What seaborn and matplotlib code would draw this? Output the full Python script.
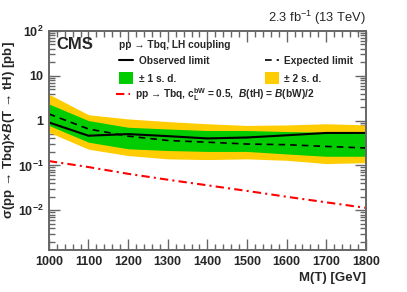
import matplotlib
matplotlib.use("Agg")
import matplotlib.pyplot as plt
import seaborn as sns
from matplotlib.lines import Line2D
from matplotlib.patches import Patch
from matplotlib.ticker import MultipleLocator, LogLocator, NullFormatter

# Values
mass = [1000, 1100, 1200, 1300, 1400, 1500, 1600, 1700, 1800]
observed = [0.91, 0.46, 0.50, 0.45, 0.40, 0.42, 0.47, 0.53, 0.53]
expected = [1.41, 0.65, 0.45, 0.36, 0.33, 0.30, 0.29, 0.265, 0.245]
one_sd_lo = [0.78, 0.33, 0.235, 0.215, 0.205, 0.205, 0.18, 0.16, 0.16]
one_sd_hi = [2.35, 1.0, 0.71, 0.65, 0.60, 0.60, 0.57, 0.55, 0.55]
two_sd_lo = [0.55, 0.23, 0.166, 0.14, 0.135, 0.14, 0.13, 0.11, 0.115]
two_sd_hi = [3.9, 1.35, 1.09, 0.95, 0.85, 0.78, 0.80, 0.85, 0.80]
theory = [0.125, 0.092, 0.065, 0.048, 0.036, 0.027, 0.020, 0.015, 0.0113]

y_ticks = [1e-2, 1e-1, 1, 10, 100]
y_ticklabels = [r"$\mathbf{10^{-2}}$", r"$\mathbf{10^{-1}}$", "1", "10", r"$\mathbf{10^{2}}$"]

sns.set_style("ticks")
plt.rcParams["font.family"] = ["Liberation Sans", "DejaVu Sans"]
plt.rcParams["mathtext.fontset"] = "custom"
plt.rcParams["mathtext.rm"] = "Liberation Sans"
plt.rcParams["mathtext.bf"] = "Liberation Sans:bold"
plt.rcParams["mathtext.it"] = "Liberation Sans:italic:bold"
plt.rcParams["mathtext.sf"] = "Liberation Sans"

GREEN = "#00cc00"
YELLOW = "#ffcc00"
RED = "#ff0000"
FRAME = "#666666"

fig = plt.figure(figsize=(4.07, 2.92), dpi=100)
ax = fig.add_axes([0.120, 0.144, 0.779, 0.750])

# bands
ax.fill_between(mass, two_sd_lo, two_sd_hi, color=YELLOW, lw=0)
ax.fill_between(mass, one_sd_lo, one_sd_hi, color=GREEN, lw=0)

# lines
sns.lineplot(x=mass, y=expected, ax=ax, color="black", lw=1.2, linestyle=(0, (4, 3)))
sns.lineplot(x=mass, y=observed, ax=ax, color="black", lw=1.5)
sns.lineplot(x=mass, y=theory, ax=ax, color=RED, lw=1.5, linestyle=(0, (4, 2, 1, 2)))

ax.set_yscale("log")
ax.set_xlim(1000, 1800)
ax.set_ylim(1.3e-3, 100)

ax.xaxis.set_major_locator(MultipleLocator(100))
ax.xaxis.set_minor_locator(MultipleLocator(20))
ax.set_yticks(y_ticks)
ax.set_yticklabels(y_ticklabels)
ax.yaxis.set_minor_locator(LogLocator(base=10, subs=range(2, 10)))
ax.yaxis.set_minor_formatter(NullFormatter())

ax.tick_params(which="both", direction="in", top=True, right=True, color=FRAME)
ax.tick_params(which="major", length=8, width=1.0, labelsize=9, pad=4)
ax.tick_params(which="minor", length=4, width=1.0)
for lab in ax.get_xticklabels() + ax.get_yticklabels():
    lab.set_fontweight("bold")
for sp in ax.spines.values():
    sp.set_color(FRAME)
    sp.set_linewidth(1.4)

ax.set_xlabel("M(T) [GeV]", fontsize=9.5, fontweight="bold", loc="right")
ax.xaxis.set_label_coords(1.0, -0.128)
ax.xaxis.label.set_va("center")
ax.set_ylabel(r"σ(pp → Tbq)×$\mathit{B}$(T → tH) [pb]", fontsize=9.5,
              fontweight="bold", loc="top")
ax.yaxis.set_label_coords(-0.126, 0.955)
ax.yaxis.label.set_va("center")

ax.text(0.025, 0.936, "CMS", transform=ax.transAxes, fontsize=12,
        fontweight="bold", va="center", ha="left")
ax.text(1.0, 1.059, r"2.3 fb$^{\mathrm{-1}}$ (13 TeV)", transform=ax.transAxes,
        fontsize=9.3, va="center", ha="right")

# legend
h_obs = Line2D([], [], color="black", lw=1.5)
h_exp = Line2D([], [], color="black", lw=1.2, linestyle=(0, (4, 3)))
h_1sd = Patch(facecolor=GREEN, edgecolor="none")
h_2sd = Patch(facecolor=YELLOW, edgecolor="none")
leg1 = ax.legend([h_obs, h_1sd, h_exp, h_2sd],
                 ["Observed limit", "± 1 s. d.", "Expected limit", "± 2 s. d."],
                 ncol=2, loc="upper left", bbox_to_anchor=(0.211, 0.975),
                 frameon=False, borderpad=0.35, borderaxespad=0,
                 handlelength=1.4, handleheight=1.45, handletextpad=0.5,
                 columnspacing=5.5, labelspacing=0.5,
                 title="pp → Tbq, LH coupling", alignment="left",
                 prop={"weight": "bold", "size": 7.3},
                 title_fontproperties={"weight": "bold", "size": 7.3})
ax.add_artist(leg1)

h_th = Line2D([], [], color=RED, lw=1.5, linestyle=(0, (4, 2, 1, 2)))
ax.legend([h_th],
          [r"pp → Tbq, $\mathbf{c}_{\mathbf{L}}^{\mathbf{bW}}$ = 0.5,  $\mathit{B}$(tH) = $\mathit{B}$(bW)/2"],
          loc="center left", bbox_to_anchor=(0.211, 0.71), frameon=False,
          borderpad=0, borderaxespad=0, handlelength=1.4, handletextpad=0.5,
          prop={"weight": "bold", "size": 7.3})

fig.savefig("out.png", dpi=100)
